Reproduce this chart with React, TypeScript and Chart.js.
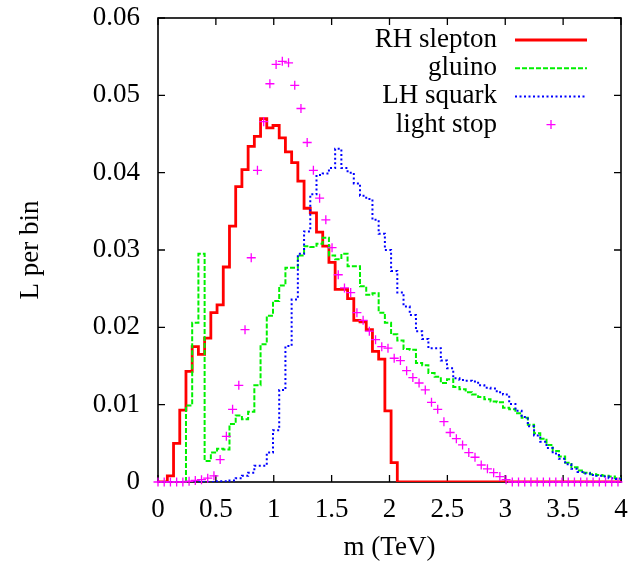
import React, { useEffect, useRef } from 'react';
import { Chart, registerables } from 'chart.js';

Chart.register(...registerables);

const FONT = '"Liberation Serif", "Times New Roman", serif';

// spacing between successive histogram points (TeV)
const BIN_WIDTH = 0.0537;
const X_MIN = 0;
const X_MAX = 4;
const Y_MIN = 0;
const Y_MAX = 0.06;

const X_TICKS = [0, 0.5, 1, 1.5, 2, 2.5, 3, 3.5, 4];
const X_TICK_LABELS = ['0', '0.5', '1', '1.5', '2', '2.5', '3', '3.5', '4'];
const Y_TICKS = [0, 0.01, 0.02, 0.03, 0.04, 0.05, 0.06];
const Y_TICK_LABELS = ['0', '0.01', '0.02', '0.03', '0.04', '0.05', '0.06'];

const SERIES_NAMES = ['RH slepton', 'gluino', 'LH squark', 'light stop'];

const RH_SLEPTON = [
  0, 0, 0.0008, 0.005, 0.0093, 0.0143, 0.0175, 0.0165, 0.0186, 0.0219,
  0.0229, 0.0278, 0.0331, 0.0382, 0.0404, 0.0434, 0.0447, 0.047, 0.0458, 0.0461,
  0.0445, 0.0427, 0.0413, 0.0389, 0.0354, 0.0348, 0.0323, 0.0305, 0.0284, 0.0249,
  0.0249, 0.0237, 0.0209, 0.0207, 0.0197, 0.0169, 0.0159, 0.0092, 0.0025, 0,
  0, 0, 0, 0, 0, 0, 0, 0, 0, 0,
  0, 0, 0, 0, 0, 0, 0, 0, 0, 0,
  0, 0, 0, 0, 0, 0, 0, 0, 0, 0,
  0, 0, 0, 0, 0,
];

const GLUINO = [
  0, 0, 0, 0, 0, 0.0099, 0.0206, 0.0295, 0.0027, 0.0038,
  0.0043, 0.0042, 0.0075, 0.0086, 0.0081, 0.0091, 0.0125, 0.0178, 0.0215, 0.0234,
  0.0254, 0.0277, 0.0277, 0.0293, 0.0305, 0.0304, 0.0308, 0.0316, 0.0293, 0.0288,
  0.0295, 0.0279, 0.0279, 0.0253, 0.0242, 0.0244, 0.0219, 0.0206, 0.0191, 0.0183,
  0.0172, 0.0171, 0.0154, 0.0151, 0.0141, 0.0136, 0.0128, 0.0133, 0.0123, 0.012,
  0.0116, 0.0113, 0.011, 0.0107, 0.0104, 0.0103, 0.0096, 0.0094, 0.0089, 0.0083,
  0.0074, 0.0063, 0.0056, 0.0048, 0.004, 0.0033, 0.0025, 0.0019, 0.0015, 0.0012,
  0.001, 0.0009, 0.0008, 0.0007, 0.0005,
];

const LH_SQUARK = [
  0, 0, 0, 0, 0, 0, 0, 0, 0, 0,
  0.0001, 0.0001, 0.0002, 0.0005, 0.0008, 0.0012, 0.0021, 0.0021, 0.0038, 0.0067,
  0.0119, 0.0176, 0.0236, 0.0295, 0.0324, 0.0372, 0.0397, 0.0399, 0.0406, 0.0431,
  0.0406, 0.04, 0.0386, 0.037, 0.0366, 0.0339, 0.0321, 0.03, 0.0273, 0.0245,
  0.0227, 0.0216, 0.0195, 0.0185, 0.0173, 0.0173, 0.0157, 0.0147, 0.0134, 0.0132,
  0.0131, 0.013, 0.0125, 0.0122, 0.0121, 0.0116, 0.0113, 0.0101, 0.0092, 0.0084,
  0.0072, 0.006, 0.0052, 0.0044, 0.0037, 0.003, 0.0023, 0.0017, 0.0013, 0.0011,
  0.0009, 0.0008, 0.0007, 0.0005, 0.0004,
];

const LIGHT_STOP = [
  0, 0, 0, 0, 0, 0.0001, 0.0002, 0.0003, 0.0005, 0.0008,
  0.0029, 0.0059, 0.0094, 0.0125, 0.0197, 0.029, 0.0403, 0.0466, 0.0515, 0.054,
  0.0544, 0.0542, 0.0513, 0.0483, 0.0439, 0.0403, 0.0367, 0.0339, 0.0303, 0.0268,
  0.0251, 0.0245, 0.0219, 0.0209, 0.0195, 0.0184, 0.0175, 0.0173, 0.016, 0.0157,
  0.0144, 0.0135, 0.0128, 0.0119, 0.0103, 0.0094, 0.0078, 0.0064, 0.0056, 0.0048,
  0.0038, 0.0032, 0.0022, 0.0017, 0.0012, 0.0007, 0.0003, 0, 0, 0,
  0, 0, 0, 0, 0, 0, 0, 0, 0, 0,
  0, 0, 0, 0, 0,
];

const COLORS = ['#ff0000', '#00f000', '#0000ff', '#ff00ff'];
const DASHES: number[][] = [[], [5, 2], [2, 2.5], []];
const WIDTHS = [2.8, 2, 2, 1.3];
const CROSS_R = 4.5;

const binX = RH_SLEPTON.map((_, i) => i * BIN_WIDTH);

// histogram steps: a point per bin; final flat run carried to the axis edge
function stepData(vals: number[]) {
  const pts = vals.map((y, i) => ({ x: binX[i], y }));
  pts.push({ x: X_MAX, y: vals[vals.length - 1] });
  return pts;
}

const TICK_LEN = 7;

const framePlugin = {
  id: 'frame',
  beforeDatasetsDraw(chart: any) {
    const { ctx, chartArea, scales } = chart;
    const { left, right, top, bottom } = chartArea;
    ctx.save();
    ctx.strokeStyle = '#000';
    ctx.lineWidth = 1.3;
    ctx.beginPath();
    X_TICKS.forEach((v) => {
      const px = scales.x.getPixelForValue(v);
      ctx.moveTo(px, bottom);
      ctx.lineTo(px, bottom - TICK_LEN);
      ctx.moveTo(px, top);
      ctx.lineTo(px, top + TICK_LEN);
    });
    Y_TICKS.forEach((v) => {
      const py = scales.y.getPixelForValue(v);
      ctx.moveTo(left, py);
      ctx.lineTo(left + TICK_LEN, py);
      ctx.moveTo(right, py);
      ctx.lineTo(right - TICK_LEN, py);
    });
    ctx.stroke();
    ctx.lineWidth = 1.6;
    ctx.strokeRect(left, top, right - left, bottom - top);
    ctx.restore();
  },
};

const LEGEND_ROWS_Y = [40, 68.2, 96.4, 124.6];
const LEGEND_TEXT_RIGHT = 497;
const LEGEND_SAMPLE = [515, 587];

const legendPlugin = {
  id: 'gpLegend',
  afterDatasetsDraw(chart: any) {
    const { ctx } = chart;
    ctx.save();
    ctx.font = `27px ${FONT}`;
    ctx.fillStyle = '#000';
    ctx.textAlign = 'right';
    ctx.textBaseline = 'middle';
    SERIES_NAMES.forEach((name, i) => {
      const y = LEGEND_ROWS_Y[i];
      ctx.fillText(name, LEGEND_TEXT_RIGHT, y);
      ctx.strokeStyle = COLORS[i];
      if (i < 3) {
        ctx.lineWidth = WIDTHS[i];
        ctx.setLineDash(DASHES[i]);
        ctx.beginPath();
        ctx.moveTo(LEGEND_SAMPLE[0], y);
        ctx.lineTo(LEGEND_SAMPLE[1], y);
        ctx.stroke();
        ctx.setLineDash([]);
      } else {
        const cx = (LEGEND_SAMPLE[0] + LEGEND_SAMPLE[1]) / 2;
        ctx.lineWidth = WIDTHS[i];
        ctx.beginPath();
        ctx.moveTo(cx - CROSS_R, y);
        ctx.lineTo(cx + CROSS_R, y);
        ctx.moveTo(cx, y - CROSS_R);
        ctx.lineTo(cx, y + CROSS_R);
        ctx.stroke();
      }
    });
    ctx.restore();
  },
};

function zeroScalePadding(s: any) {
  s.paddingTop = 0;
  s.paddingBottom = 0;
  s.paddingLeft = 0;
  s.paddingRight = 0;
}

export default function App() {
  const ref = useRef<HTMLCanvasElement>(null);

  useEffect(() => {
    document.body.style.margin = '0';
    const canvas = ref.current;
    if (!canvas) return;
    const font = { family: FONT, size: 27 };
    const chart = new Chart(canvas, {
      type: 'line',
      data: {
        datasets: [
          {
            label: SERIES_NAMES[3],
            data: LIGHT_STOP.map((y, i) => ({ x: binX[i], y })),
            showLine: false,
            pointStyle: 'cross',
            pointRadius: CROSS_R,
            pointBorderWidth: WIDTHS[3],
            pointBorderColor: COLORS[3],
            pointBackgroundColor: COLORS[3],
            borderColor: COLORS[3],
            clip: false as any,
            order: 0,
          },
          {
            label: SERIES_NAMES[2],
            data: stepData(LH_SQUARK),
            stepped: 'middle',
            borderColor: COLORS[2],
            borderWidth: WIDTHS[2],
            borderDash: DASHES[2],
            pointRadius: 0,
            fill: false,
            order: 1,
          },
          {
            label: SERIES_NAMES[1],
            data: stepData(GLUINO),
            stepped: 'middle',
            borderColor: COLORS[1],
            borderWidth: WIDTHS[1],
            borderDash: DASHES[1],
            pointRadius: 0,
            fill: false,
            order: 2,
          },
          {
            label: SERIES_NAMES[0],
            data: stepData(RH_SLEPTON),
            stepped: 'middle',
            borderColor: COLORS[0],
            borderWidth: WIDTHS[0],
            pointRadius: 0,
            fill: false,
            order: 3,
          },
        ] as any,
      },
      options: {
        responsive: false,
        animation: false,
        layout: { padding: { left: 0, right: 13, top: 18, bottom: 0 } },
        plugins: { legend: { display: false }, tooltip: { enabled: false } },
        scales: {
          x: {
            type: 'linear',
            min: X_MIN,
            max: X_MAX,
            grid: { display: false, drawTicks: false },
            border: { display: false },
            afterBuildTicks: (s: any) => {
              s.ticks = X_TICKS.map((v) => ({ value: v }));
            },
            afterFit: (s: any) => {
              s.height = 84;
              zeroScalePadding(s);
            },
            ticks: {
              callback: (_v: any, i: number) => X_TICK_LABELS[i],
              font,
              color: '#000',
              padding: 12,
              maxRotation: 0,
              autoSkip: false,
            },
            title: {
              display: true,
              text: 'm (TeV)',
              font,
              color: '#000',
              padding: { top: 0, bottom: 2 },
            },
          },
          y: {
            type: 'linear',
            min: Y_MIN,
            max: Y_MAX,
            grid: { display: false, drawTicks: false },
            border: { display: false },
            afterBuildTicks: (s: any) => {
              s.ticks = Y_TICKS.map((v) => ({ value: v }));
            },
            afterFit: (s: any) => {
              s.width = 158;
              zeroScalePadding(s);
            },
            ticks: {
              callback: (_v: any, i: number) => Y_TICK_LABELS[i],
              font,
              color: '#000',
              padding: 18,
              autoSkip: false,
            },
            title: {
              display: true,
              text: 'L per bin',
              font,
              color: '#000',
              padding: { top: 15, bottom: 0 },
            },
          },
        },
      } as any,
      plugins: [framePlugin, legendPlugin],
    });
    return () => chart.destroy();
  }, []);

  return <canvas ref={ref} width={634} height={566} style={{ display: 'block' }} />;
}
